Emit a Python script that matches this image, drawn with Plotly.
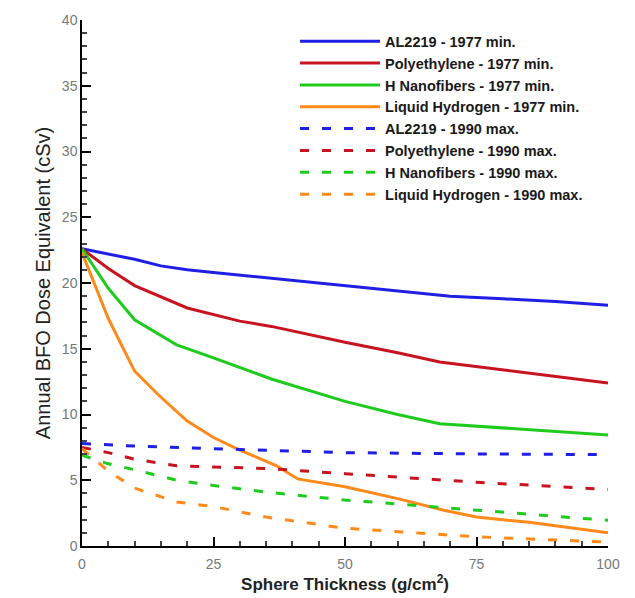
import plotly.graph_objects as go

# Sphere thickness grid (g/cm^2) for each curve
x_al_min = [0, 5, 10, 15, 20, 25, 30, 40, 50, 60, 70, 80, 90, 100]
al_min = [22.6, 22.2, 21.8, 21.3, 21.0, 20.8, 20.6, 20.2, 19.8, 19.4, 19.0, 18.8, 18.6, 18.3]

x_pe_min = [0, 5, 10, 20, 30, 36, 50, 60, 68, 80, 90, 100]
pe_min = [22.6, 21.1, 19.8, 18.1, 17.1, 16.7, 15.5, 14.7, 14.0, 13.4, 12.9, 12.4]

x_hn_min = [0, 5, 10, 18, 25, 36, 50, 60, 68, 80, 90, 100]
hn_min = [22.6, 19.6, 17.2, 15.3, 14.3, 12.7, 11.0, 10.0, 9.3, 9.0, 8.7, 8.45]

x_lh_min = [0, 2.5, 5, 10, 14.5, 20, 25, 30, 37, 41, 50, 60, 69, 75, 85, 100]
lh_min = [22.3, 19.8, 17.3, 13.3, 11.5, 9.5, 8.25, 7.3, 6.1, 5.1, 4.5, 3.6, 2.7, 2.2, 1.8, 1.0]

x_al_max = [0, 10, 25, 50, 75, 100]
al_max = [7.8, 7.6, 7.4, 7.1, 7.0, 6.95]

x_pe_max = [0, 5, 10, 18, 25, 35, 50, 75, 100]
pe_max = [7.5, 7.1, 6.6, 6.1, 6.0, 5.9, 5.5, 4.85, 4.3]

x_hn_max = [0, 5, 10, 18, 25, 35, 50, 75, 100]
hn_max = [6.9, 6.25, 5.8, 5.0, 4.6, 4.1, 3.5, 2.7, 1.95]

x_lh_max = [0, 5, 10, 14, 18, 25, 35, 50, 75, 100]
lh_max = [7.4, 5.7, 4.4, 3.85, 3.35, 3.0, 2.2, 1.35, 0.7, 0.3]

names = [
    "AL2219 - 1977 min.",
    "Polyethylene - 1977 min.",
    "H Nanofibers - 1977 min.",
    "Liquid Hydrogen - 1977 min.",
    "AL2219 - 1990 max.",
    "Polyethylene - 1990 max.",
    "H Nanofibers - 1990 max.",
    "Liquid Hydrogen - 1990 max.",
]

series = [
    (x_al_min, al_min), (x_pe_min, pe_min), (x_hn_min, hn_min), (x_lh_min, lh_min),
    (x_al_max, al_max), (x_pe_max, pe_max), (x_hn_max, hn_max), (x_lh_max, lh_max),
]

colors = ["#1f1fe6", "#c81420", "#1ecb1e", "#ff8a1c"] * 2
dashes = ["solid"] * 4 + ["9px,13px"] * 4

fig = go.Figure()
for (xs, ys), name, col, dash in zip(series, names, colors, dashes):
    fig.add_trace(go.Scatter(
        x=xs, y=ys, mode="lines", name=f"<b>{name}</b>",
        line=dict(color=col, width=3, dash=dash),
    ))

fig.update_layout(
    width=635, height=598,
    margin=dict(l=82, r=27, t=16, b=52),
    paper_bgcolor="white", plot_bgcolor="white",
    font=dict(family="Liberation Sans, Arial, sans-serif", color="#222"),
    showlegend=True,
    legend=dict(
        x=0.405, y=0.99, xanchor="left", yanchor="top",
        bgcolor="rgba(255,255,255,0)",
        font=dict(size=14.5, color="#1a1a1a", family="Liberation Sans, Arial, sans-serif"),
        itemwidth=80, tracegroupgap=0,
    ),
)

fig.update_xaxes(
    range=[0, 100], tickvals=[0, 25, 50, 75, 100],
    ticks="inside", ticklen=9, tickwidth=1.5, tickcolor="black",
    showline=True, linecolor="black", linewidth=1.5,
    showgrid=False, zeroline=False,
    tickfont=dict(size=14, color="#777"),
    ticklabelstandoff=4,
    minor=dict(dtick=5, ticks="inside", ticklen=5, tickcolor="#444", showgrid=False),
    title=dict(text="<b>Sphere Thickness (g/cm<sup>2</sup>)</b>", font=dict(size=17, color="#222"), standoff=2),
)
fig.update_yaxes(
    range=[0, 40], tickvals=[0, 5, 10, 15, 20, 25, 30, 35, 40],
    ticks="inside", ticklen=9, tickwidth=1.5, tickcolor="black",
    showline=True, linecolor="black", linewidth=1.5,
    showgrid=False, zeroline=False,
    tickfont=dict(size=14, color="#777"),
    minor=dict(dtick=1, ticks="inside", ticklen=5, tickcolor="#444", showgrid=False),
    title=dict(text="Annual BFO Dose Equivalent (cSv)", font=dict(size=20, color="#222"), standoff=6),
)

fig.write_html("out.html")
